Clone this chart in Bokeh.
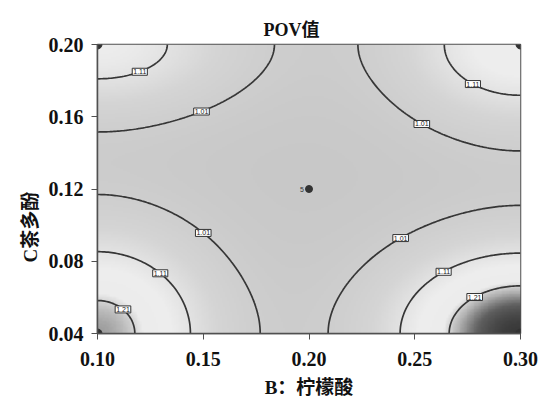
import numpy as np
import contourpy
from bokeh.plotting import figure
from bokeh.models import (LinearColorMapper, FixedTicker, ColumnDataSource,
                          NumeralTickFormatter, Range1d, Title)
from bokeh.embed import file_html
from bokeh.resources import INLINE

# ---- texts ----
title_text = "POV值"
x_title = "B：柠檬酸"
y_title = "C茶多酚"
x_ticks = [0.10, 0.15, 0.20, 0.25, 0.30]
y_ticks = [0.04, 0.08, 0.12, 0.16, 0.20]

# ---- response surface ----
center_pov = 0.96
corner_B = [0.10, 0.30, 0.10, 0.30]
corner_C = [0.20, 0.20, 0.04, 0.04]
corner_rise = [0.187, 0.214, 0.276, 0.33]
corner_spread_B = [0.0701, 0.0600, 0.0560, 0.064]
corner_spread_C = [0.0400, 0.0470, 0.058, 0.050]
contour_levels = [1.01, 1.11, 1.21]

# design points
design_B = [0.10, 0.30, 0.10, 0.30, 0.20]
design_C = [0.20, 0.20, 0.04, 0.04, 0.12]
center_runs = "5"

FONT = "Liberation Serif, Noto Sans CJK SC"

bg = np.linspace(x_ticks[0], x_ticks[-1], 241)
cg = np.linspace(y_ticks[0], y_ticks[-1], 193)
BB, CC = np.meshgrid(bg, cg)
Z = np.full_like(BB, center_pov)
for b0, c0, a, sb, sc in zip(corner_B, corner_C, corner_rise, corner_spread_B, corner_spread_C):
    Z = Z + a * np.exp(-((BB - b0) / sb) ** 2 - ((CC - c0) / sc) ** 2)

p = figure(width=539, height=404, output_backend="svg", toolbar_location=None,
           x_range=Range1d(x_ticks[0], x_ticks[-1]), y_range=Range1d(y_ticks[0], y_ticks[-1]),
           min_border_left=97, min_border_right=19, min_border_top=44, min_border_bottom=71)
p.background_fill_color = "white"
p.border_fill_color = "white"
p.grid.visible = False
p.outline_line_color = "#505050"
p.outline_line_width = 1.5

p.title.text = title_text
p.title.align = "left"
p.title.offset = 166
p.title.text_font = FONT
p.title.text_font_style = "bold"
p.title.text_font_size = "18px"
p.title.text_color = "#111111"

# grey shading palette (style)
lo, hi = 0.96, 1.30
vals = np.linspace(lo, hi, 256)
gray = np.interp(vals, [0.96, 1.06, 1.15, 1.20, 1.23, 1.26, 1.30],
                 [200, 213, 238, 236, 175, 95, 45]).astype(int)
palette = ["#%02x%02x%02x" % (g, g, g) for g in gray]
mapper = LinearColorMapper(palette=palette, low=lo, high=hi)
p.image(image=[Z], x=x_ticks[0], y=y_ticks[0], dw=x_ticks[-1] - x_ticks[0],
        dh=y_ticks[-1] - y_ticks[0], color_mapper=mapper)

p.contour(BB, CC, Z, levels=contour_levels, line_color="#363636", line_width=1.7)

# contour labels at arc-length midpoint of each segment
gen = contourpy.contour_generator(BB, CC, Z)
lx, ly, lt = [], [], []
for lev in contour_levels:
    for seg in gen.lines(lev):
        if len(seg) < 3:
            continue
        d = np.r_[0, np.cumsum(np.hypot(np.diff(seg[:, 0]) * 2125, np.diff(seg[:, 1]) * 1800))]
        i = np.searchsorted(d, d[-1] / 2)
        lx.append(seg[i, 0]); ly.append(seg[i, 1]); lt.append(f"{lev:.2f}")
src = ColumnDataSource(dict(x=lx, y=ly, t=lt))
p.text(x="x", y="y", text="t", source=src, text_font_size="7px", text_align="center",
       text_baseline="middle", text_color="#222222", background_fill_color="white",
       border_line_color="#333333", padding=1)

p.scatter(design_B[:4], design_C[:4], size=9, color="#333333")
p.scatter(design_B[4:], design_C[4:], size=7, color="#333333")
p.text(x=design_B[4:], y=design_C[4:], text=[center_runs], x_offset=-7,
       text_font_size="7px", text_align="center", text_baseline="middle", text_color="#333333")

for ax in (p.xaxis[0], p.yaxis[0]):
    ax.formatter = NumeralTickFormatter(format="0.00")
    ax.minor_tick_line_color = None
    ax.axis_line_color = "#505050"
    ax.axis_line_width = 1.5
    ax.major_tick_line_color = "#505050"
    ax.major_tick_out = 6
    ax.major_tick_in = 0
    ax.major_label_text_font = FONT
    ax.major_label_text_font_style = "bold"
    ax.major_label_text_font_size = "20px"
    ax.major_label_text_color = "#111111"
    ax.axis_label_text_font = FONT
    ax.axis_label_text_font_style = "bold"
    ax.axis_label_text_font_size = "19px"
    ax.axis_label_text_color = "#111111"
p.xaxis[0].ticker = FixedTicker(ticks=x_ticks)
p.yaxis[0].ticker = FixedTicker(ticks=y_ticks)
p.xaxis[0].major_label_standoff = 12
p.yaxis[0].major_label_standoff = 8
p.xaxis[0].axis_label = x_title
p.xaxis[0].axis_label_standoff = 8

ytitle = Title(text=y_title, align="left", offset=71, text_font=FONT, text_font_style="bold",
               text_font_size="19px", text_color="#111111", standoff=10)
p.add_layout(ytitle, "left")

open("out.html", "w").write(file_html(p, INLINE))
